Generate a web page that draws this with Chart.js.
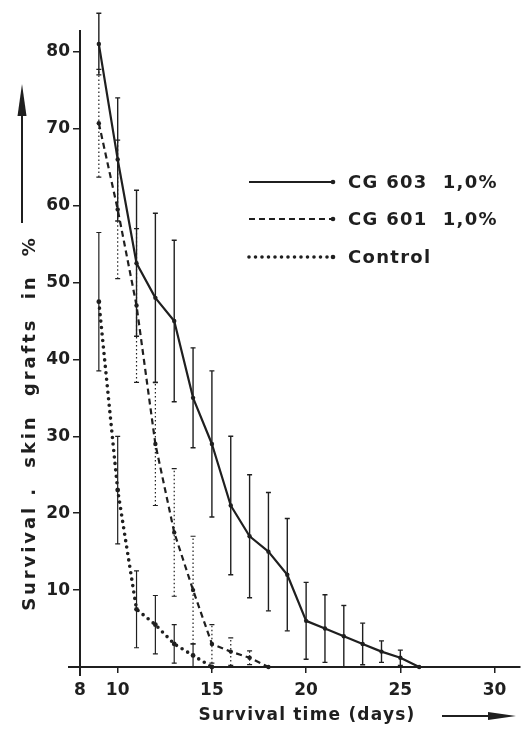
<!DOCTYPE html>
<html><head><meta charset="utf-8">
<script src="https://cdn.jsdelivr.net/npm/chart.js@4/dist/chart.umd.min.js"></script>
<style>html,body{margin:0;padding:0;background:#fff}canvas{display:block}</style>
</head><body>
<canvas id="c" width="524" height="734"></canvas>
<script>
// ---- data ----
const days603 = [9,10,11,12,13,14,15,16,17,18,19,20,21,22,23,24,25,26];
const surv603 = [81,66,52.5,48,45,35,29,21,17,15,12,6,5,4,3,2,1.2,0];
const err603  = [4,8,9.5,11,10.5,6.5,9.5,9,8,7.7,7.3,5,4.4,4,2.7,1.4,1,0];

const days601 = [9,10,11,12,13,14,15,16,17,18];
const surv601 = [70.7,59.5,47,29,17.5,10,3,2,1.2,0];
const err601  = [7,9,10,8,8.3,7,2.5,1.8,0.9,0];

const daysCtl = [9,10,11,12,13,14,15];
const survCtl = [47.5,23,7.5,5.5,3,1.5,0];
const errCtl  = [9,7,5,3.8,2.5,1.5,0];

const seriesLabels = ['CG 603  1,0%', 'CG 601  1,0%', 'Control'];
const xTicks = [8,10,15,20,25,30];
const yTicks = [0,10,20,30,40,50,60,70,80];
const xTitle = 'Survival time (days)';
const yTitle = 'Survival .  skin  grafts  in  %';

const ink = '#1f1f1f';
const fontFam = '"DejaVu Sans"';
const pts = (xs, ys) => xs.map((x,i)=>({x, y: ys[i]}));

const errPlugin = {
  id:'errbars',
  afterDatasetsDraw(chart){
    const ctx=chart.ctx, xs=chart.scales.x, ys=chart.scales.y;
    chart.data.datasets.forEach(ds=>{
      if(!ds.err) return;
      ctx.save();
      ctx.strokeStyle=ink; ctx.lineWidth=ds.errWidth;
      ds.data.forEach((p,j)=>{
        const e=ds.err[j]; if(!e) return;
        const x=xs.getPixelForValue(p.x);
        const lo=ys.getPixelForValue(Math.max(0,p.y-e)), hi=ys.getPixelForValue(p.y+e);
        ctx.setLineDash(ds.errDash);
        ctx.beginPath(); ctx.moveTo(x,lo); ctx.lineTo(x,hi); ctx.stroke();
        ctx.setLineDash([]);
        ctx.beginPath(); ctx.moveTo(x-2.5,hi); ctx.lineTo(x+2.5,hi);
        if(p.y-e>0){ctx.moveTo(x-2.5,lo); ctx.lineTo(x+2.5,lo);}
        ctx.stroke();
      });
      ctx.restore();
    });
  }
};

const decoPlugin = {
  id:'deco',
  afterDraw(chart){
    const ctx=chart.ctx, a=chart.chartArea;
    ctx.save();
    ctx.strokeStyle=ink; ctx.fillStyle=ink;
    // axis extensions
    ctx.lineWidth=2;
    ctx.beginPath(); ctx.moveTo(a.left-12,a.bottom); ctx.lineTo(a.left,a.bottom);
    ctx.moveTo(a.left,a.bottom); ctx.lineTo(a.left,a.bottom+9); ctx.stroke();
    // y arrow
    ctx.lineWidth=2;
    ctx.beginPath(); ctx.moveTo(22,223); ctx.lineTo(22,110); ctx.stroke();
    ctx.beginPath(); ctx.moveTo(22,84); ctx.lineTo(26.5,116); ctx.lineTo(17.5,116); ctx.closePath(); ctx.fill();
    // x arrow
    ctx.beginPath(); ctx.moveTo(442,716); ctx.lineTo(495,716); ctx.stroke();
    ctx.beginPath(); ctx.moveTo(516,716); ctx.lineTo(488,712); ctx.lineTo(488,720); ctx.closePath(); ctx.fill();
    // titles
    ctx.font='bold 17px '+fontFam;
    ctx.textBaseline='middle'; ctx.textAlign='center';
    ctx.letterSpacing='1.2px';
    ctx.fillText(xTitle, 307, 716);
    ctx.save();
    ctx.translate(30, 423); ctx.rotate(-Math.PI/2);
    ctx.font='bold 18px '+fontFam;
    ctx.letterSpacing='2.9px';
    ctx.fillText(yTitle, 0, 0);
    ctx.restore();
    // legend
    const ly=[182,219,257];
    ctx.font='bold 18px '+fontFam; ctx.textAlign='left'; ctx.letterSpacing='1.3px';
    chart.data.datasets.forEach((ds,i)=>{
      ctx.save();
      ctx.lineWidth=ds.borderWidth; ctx.setLineDash(ds.borderDash||[]);
      ctx.lineCap=ds.borderCapStyle||'butt';
      ctx.beginPath(); ctx.moveTo(249,ly[i]); ctx.lineTo(333,ly[i]); ctx.stroke();
      ctx.setLineDash([]);
      ctx.beginPath(); ctx.arc(333,ly[i],2.3,0,Math.PI*2); ctx.fill();
      ctx.restore();
      ctx.fillText(ds.label, 348, ly[i]+1);
    });
    ctx.restore();
  }
};

new Chart(document.getElementById('c'), {
  type:'line',
  data:{ datasets:[
    {label:seriesLabels[0], data:pts(days603,surv603), err:err603, errWidth:1.4, errDash:[],
     borderColor:ink, backgroundColor:ink, borderWidth:2.2, pointRadius:2.2, pointBackgroundColor:ink, pointBorderWidth:0, tension:0},
    {label:seriesLabels[1], data:pts(days601,surv601), err:err601, errWidth:1.2, errDash:[1.5,2.5],
     borderColor:ink, backgroundColor:ink, borderWidth:2.2, borderDash:[6,4], pointRadius:2.2, pointBackgroundColor:ink, pointBorderWidth:0, tension:0},
    {label:seriesLabels[2], data:pts(daysCtl,survCtl), err:errCtl, errWidth:1.2, errDash:[],
     borderColor:ink, backgroundColor:ink, borderWidth:3.6, borderDash:[0,6.5], borderCapStyle:'round', pointRadius:2.4, pointBackgroundColor:ink, pointBorderWidth:0, tension:0}
  ]},
  options:{
    responsive:false, animation:false, devicePixelRatio:1,
    layout:{padding:{top:31,right:0,bottom:0,left:0}},
    plugins:{legend:{display:false}, tooltip:{enabled:false}},
    elements:{line:{borderJoinStyle:'round'}},
    datasets:{line:{clip:false}},
    scales:{
      x:{type:'linear', min:8, max:31.35,
        afterBuildTicks:s=>{s.ticks=xTicks.map(v=>({value:v}));},
        afterFit:s=>{s.height=67;},
        border:{display:true,color:ink,width:2},
        grid:{drawOnChartArea:false, drawTicks:true, tickLength:6, color:ink, lineWidth:1.5},
        ticks:{color:ink, font:{family:'DejaVu Sans', size:17, weight:'bold'}, padding:7, maxRotation:0, autoSkip:false}},
      y:{min:0, max:82.7,
        afterBuildTicks:s=>{s.ticks=yTicks.map(v=>({value:v}));},
        afterFit:s=>{s.width=80;},
        border:{display:true,color:ink,width:2},
        grid:{drawOnChartArea:false, drawTicks:true, tickLength:7, color:ink, lineWidth:1.5},
        ticks:{color:ink, font:{family:'DejaVu Sans', size:17, weight:'bold'}, padding:3, autoSkip:false,
          callback:v=> v===0 ? '' : String(v)}}
    }
  },
  plugins:[errPlugin, decoPlugin]
});
</script>
</body></html>
